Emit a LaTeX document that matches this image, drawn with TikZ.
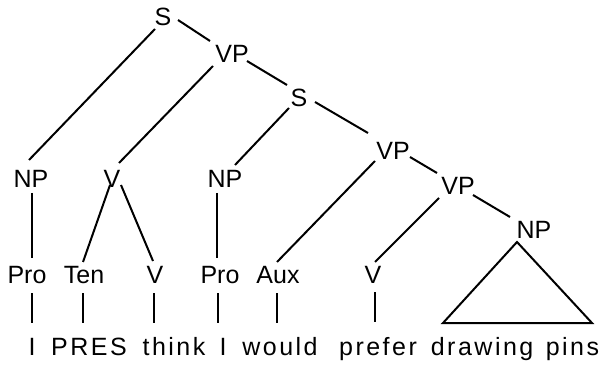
\documentclass[tikz,border=0pt]{standalone}
\usepackage{fontspec}
\setmainfont{Liberation Sans}
\usetikzlibrary{calc}
\begin{document}
\begin{tikzpicture}[x=1pt,y=-1pt,
  lab/.style={anchor=base,inner sep=0pt,font=\fontsize{25}{30}\selectfont},
  wd/.style={anchor=base,inner sep=0pt,font=\fontsize{25}{30}\selectfont\addfontfeature{LetterSpace=10}},
  br/.style={line width=2pt}]
\useasboundingbox (0,0) rectangle (605,366);
% labels
\node[lab] (S1) at (163,26) {S};
\node[lab] (VP1) at (232,63) {VP};
\node[lab] (S2) at (299,107) {S};
\node[lab] (NP1) at (31,188) {NP};
\node[lab] (V1) at (112,188) {V};
\node[lab] (NP2) at (225,188) {NP};
\node[lab] (VP2) at (393,160) {VP};
\node[lab] (VP3) at (458,195) {VP};
\node[lab] (NP3) at (534,238) {NP};
\node[lab] (Pro1) at (27,283) {Pro};
\node[lab] (Ten) at (84,283) {Ten};
\node[lab] (V2) at (155,283) {V};
\node[lab] (Pro2) at (220,283) {Pro};
\node[lab] (Aux) at (278,283) {Aux};
\node[lab] (V3) at (373,283) {V};
% words
\node[wd] (W1) at (32,355) {I};
\node[wd] (W2) at (89,355) {PRES};
\node[wd] (W3) at (174,355) {think};
\node[wd] (W4) at (223,355) {I};
\node[wd] (W5) at (280,355) {would};
\node[wd] (W6) at (378,355) {prefer};
\node[wd] (W7) at (515,355) {drawing\ \hspace{3pt}pins};
% branches
\draw[br] ($(S1.base)+(-8,3)$) -- ($(NP1.base)+(-2,-28)$);
\draw[br] ($(S1.base)+(15,-6)$) -- ($(VP1.base)+(-22,-22)$);
\draw[br] ($(VP1.base)+(-19,3)$) -- ($(V1.base)+(7,-25)$);
\draw[br] ($(VP1.base)+(15,-2)$) -- ($(S2.base)+(-12,-22)$);
\draw[br] ($(S2.base)+(-10,1)$) -- ($(NP2.base)+(10,-23)$);
\draw[br] ($(S2.base)+(16,-5)$) -- ($(VP2.base)+(-25,-27)$);
\draw[br] ($(VP2.base)+(-18,1)$) -- ($(Aux.base)+(-1,-21)$);
\draw[br] ($(VP2.base)+(17,-3)$) -- ($(VP3.base)+(-21,-22)$);
\draw[br] ($(VP3.base)+(-19,3)$) -- ($(V3.base)+(2,-21)$);
\draw[br] ($(VP3.base)+(15,0)$) -- ($(NP3.base)+(-24,-21)$);
\draw[br] ($(V1.base)+(-2,-3)$) -- ($(Ten.base)+(-1,-21)$);
\draw[br] ($(V1.base)+(9,-3)$) -- ($(V2.base)+(-2,-22)$);
\draw[br] ($(NP1.base)+(1,5)$) -- ($(Pro1.base)+(5,-25)$);
\draw[br] ($(NP2.base)+(-8,5)$) -- ($(Pro2.base)+(-3,-25)$);
% leaf bars
\draw[br] ($(Pro1.base)+(5,10)$) -- ($(W1.base)+(0,-32)$);
\draw[br] ($(Ten.base)+(-1,10)$) -- ($(W2.base)+(-6,-32)$);
\draw[br] ($(V2.base)+(-1,10)$) -- ($(W3.base)+(-20,-32)$);
\draw[br] ($(Pro2.base)+(-2,10)$) -- ($(W4.base)+(-5,-32)$);
\draw[br] ($(Aux.base)+(-1,10)$) -- ($(W5.base)+(-3,-32)$);
\draw[br] ($(V3.base)+(2,9)$) -- ($(W6.base)+(-3,-33)$);
% triangle
\draw[br,line join=miter] ($(NP3.base)+(-17,4)$) -- ($(W7.base)+(77,-32)$) -- ($(W7.base)+(-72,-32)$) -- cycle;
\end{tikzpicture}
\end{document}
